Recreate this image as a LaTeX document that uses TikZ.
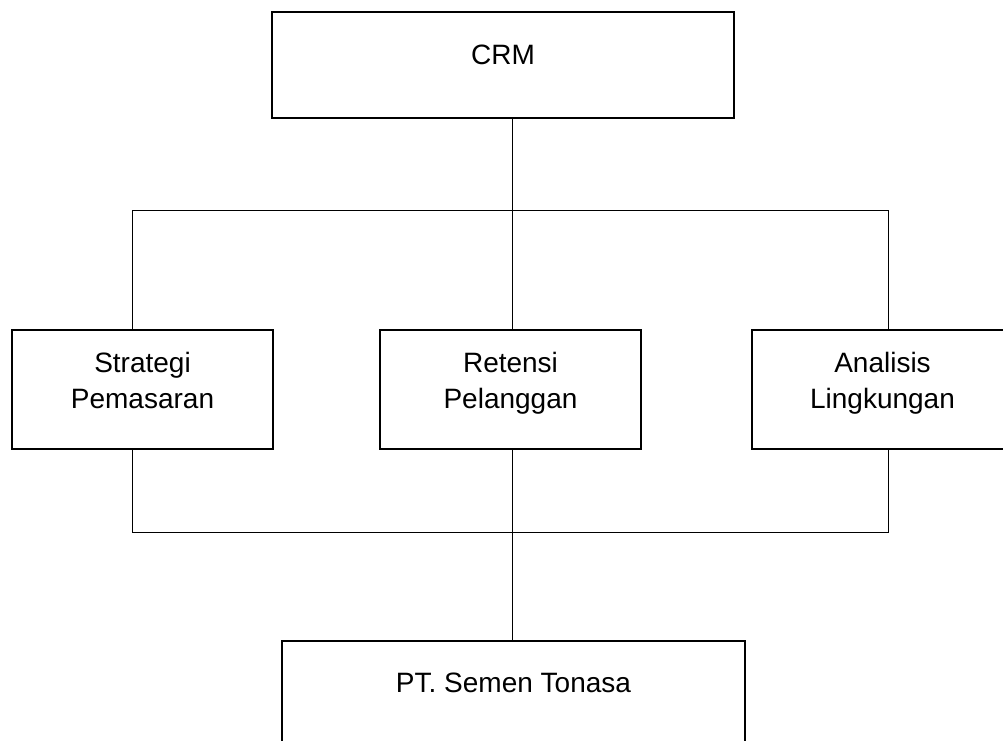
\documentclass[tikz,border=0pt]{standalone}
\usepackage{fontspec}
\setmainfont{Liberation Sans}
\begin{document}
\begin{tikzpicture}[x=1pt,y=-1pt,
  box/.style={draw, line width=2pt, inner sep=0pt, outer sep=0pt},
  conn/.style={draw, line width=1pt},
  txt/.style={font=\fontsize{28}{36}\selectfont, align=center, inner sep=0pt, anchor=base}]
\useasboundingbox (0,0) rectangle (1003,740);
\clip (0,0) rectangle (1003,740);
% boxes
\node[box, minimum width=462pt, minimum height=106pt] (crm) at (503,65) {};
\node[box, minimum width=261pt, minimum height=119pt] (sp) at (142.5,389.5) {};
\node[box, minimum width=261pt, minimum height=119pt] (rp) at (510.5,389.5) {};
\node[box, minimum width=261pt, minimum height=119pt] (al) at (882.5,389.5) {};
\node[box, minimum width=463pt, minimum height=106pt] (pt) at (513.5,694) {};
% texts (base = baseline of last line)
\node[txt] (crmt) at ([yshift=-52pt]crm.north) {CRM};
\node[txt] (spt) at ([yshift=-78pt]sp.north) {Strategi\\Pemasaran};
\node[txt] (rpt) at ([yshift=-78pt]rp.north) {Retensi\\Pelanggan};
\node[txt] (alt) at ([yshift=-78pt]al.north) {Analisis\\Lingkungan};
\node[txt] (ptt) at ([yshift=-51pt]pt.north) {PT. Semen Tonasa};
% junctions
\coordinate (t) at (512,210);
\coordinate (tl) at (132.5,210);
\coordinate (tr) at (888,210);
\coordinate (b) at (512,532);
\coordinate (bl) at (132.5,532);
\coordinate (br) at (888,532);
% connectors
\draw[conn] (t |- crm.south) -- (t);
\draw[conn] (tl) -- (tr);
\draw[conn] (tl) -- (tl |- sp.north);
\draw[conn] (t) -- (t |- rp.north);
\draw[conn] (tr) -- (tr |- al.north);
\draw[conn] (bl |- sp.south) -- (bl) -- (br) -- (br |- al.south);
\draw[conn] (b |- rp.south) -- (b |- pt.north);
\end{tikzpicture}
\end{document}
